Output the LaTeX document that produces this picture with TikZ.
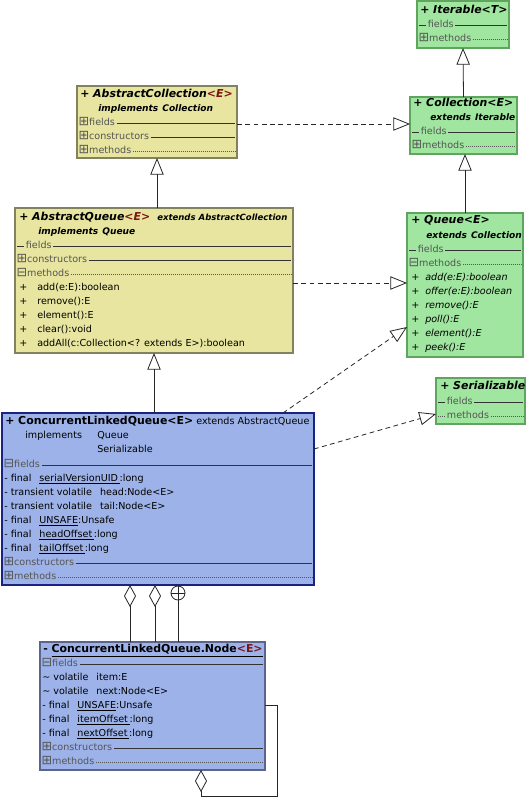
\documentclass[tikz,border=0pt]{standalone}
\usepackage{fontspec}
\setmainfont{DejaVu Sans}
\usetikzlibrary{arrows.meta}

\definecolor{absfill}{RGB}{231,229,160}
\definecolor{absline}{RGB}{130,130,95}
\definecolor{intfill}{RGB}{160,229,160}
\definecolor{intline}{RGB}{95,165,95}
\definecolor{clsfill}{RGB}{156,178,232}
\definecolor{clsline}{RGB}{25,35,130}
\definecolor{nodeline}{RGB}{90,100,140}
\definecolor{typarg}{RGB}{125,20,20}
\definecolor{secttext}{RGB}{85,85,85}

\newcommand{\bodyfont}{\fontsize{7.2}{8.5}\selectfont}
\newcommand{\namefont}{\fontsize{8.2}{9.5}\selectfont\bfseries}
\newcommand{\subfont}{\fontsize{6.8}{8}\selectfont\bfseries\itshape}
\newcommand{\targ}[1]{\textcolor{typarg}{<#1>}}
\newcommand{\openicon}{{\fontsize{9.5}{9}\selectfont ⊞}}
\newcommand{\shuticon}{{\fontsize{9.5}{9}\selectfont ⊟}}

% compartment row: box, y, icon, label, line style
\newcommand{\compart}[5]{%
  \node[sect, xshift=1pt] (#1-#4) at (#1.west |- 0,#2) {#3#4};
  \draw[#5, shorten <=1pt, shorten >=1.5pt] (#1-#4.east) -- (#1.east |- #1-#4);
}
% empty compartment: box, y, label, line style
\newcommand{\emptycompart}[4]{%
  \node[sect, xshift=8pt] (#1-#3) at (#1.west |- 0,#2) {#3};
  \draw[#4, shorten <=1.5pt, shorten >=1pt] (#1.west |- #1-#3) -- (#1-#3.west);
  \draw[#4, shorten <=1pt, shorten >=1.5pt] (#1-#3.east) -- (#1.east |- #1-#3);
}

\tikzset{
  classbox/.style={draw, anchor=north west, inner sep=0pt, outer sep=0pt, line width=0.8pt},
  absclass/.style={classbox, fill=absfill, draw=absline},
  intclass/.style={classbox, fill=intfill, draw=intline},
  conclass/.style={classbox, fill=clsfill, draw=clsline},
  boxsize/.style 2 args={minimum width=#1*0.75pt, minimum height=#2*0.75pt},
  row/.style={anchor=west, inner sep=0pt, text height=5.4pt, text depth=1.6pt, font=\bodyfont},
  sect/.style={row, text=secttext},
  clsname/.style={row, font=\namefont},
  absname/.style={row, font=\namefont\itshape},
  subname/.style={row, font=\subfont},
  solidsep/.style={line width=0.5pt, black!80},
  dotsep/.style={line width=0.5pt, black!65, dash pattern=on 0.6pt off 0.9pt},
  link/.style={line width=0.6pt, black!85},
  gen/.style={link, -{Triangle[open, length=12.5pt, width=10pt]}},
  real/.style={gen, dash pattern=on 3.6pt off 2.6pt},
  agg/.style={link, {Diamond[open, length=16.5pt, width=9pt]}-},
  nest/.style={circle, draw, black!85, line width=0.6pt, minimum size=10.5pt, inner sep=0pt},
}

\begin{document}
\begin{tikzpicture}[x=0.75pt, y=-0.75pt]
\useasboundingbox (0,0) rectangle (526,806);
\fill[white] (0,0) rectangle (526,806);

% Iterable
\node[intclass, boxsize={92}{47}] (iter) at (417,1) {};
\node[absname] at (420,11) {+ Iterable<T>};
\emptycompart{iter}{25}{fields}{solidsep}
\compart{iter}{39}{\openicon}{methods}{dotsep}

% Collection
\node[intclass, boxsize={107}{57}] (coll) at (410,97) {};
\node[absname] at (413,104) {+ Collection<E>};
\node[subname] at (430,118) {extends\hspace{3pt}Iterable};
\emptycompart{coll}{132}{fields}{solidsep}
\compart{coll}{146}{\openicon}{methods}{dotsep}

% AbstractCollection
\node[absclass, boxsize={160}{72}] (ac) at (77,86) {};
\node[absname] at (80,95) {+ AbstractCollection\targ{E}};
\node[subname] at (98,109) {implements\hspace{3pt}Collection};
\compart{ac}{123}{\openicon}{fields}{solidsep}
\compart{ac}{137}{\openicon}{constructors}{solidsep}
\compart{ac}{151}{\openicon}{methods}{dotsep}

% AbstractQueue
\node[absclass, boxsize={278}{145}] (aq) at (15,208) {};
\node[absname] at (19,218) {+ AbstractQueue\targ{E}};
\node[subname, font=\fontsize{6.4}{8}\selectfont\bfseries\itshape] at (157,218) {extends AbstractCollection};
\node[subname] at (38,232) {implements\hspace{3pt}Queue};
\emptycompart{aq}{246}{fields}{solidsep}
\compart{aq}{260}{\openicon}{constructors}{solidsep}
\compart{aq}{274}{\shuticon}{methods}{dotsep}
\foreach \m [count=\i] in {add(e:E):boolean, remove():E, element():E, clear():void, addAll(c:Collection<? extends E>):boolean} {
  \node[row] at (19,274+14*\i) {+};
  \node[row] at (37,274+14*\i) {\m};
}

% Queue
\node[intclass, boxsize={116}{144}] (queue) at (407,213) {};
\node[absname] at (411,221) {+ Queue<E>};
\node[subname] at (426,236) {extends\hspace{3pt}Collection};
\emptycompart{queue}{250}{fields}{solidsep}
\compart{queue}{264}{\shuticon}{methods}{dotsep}
\foreach \m [count=\i] in {add(e:E):boolean, offer(e:E):boolean, remove():E, poll():E, element():E, peek():E} {
  \node[row] at (411,264+14*\i) {+};
  \node[row, font=\bodyfont\itshape] at (425,264+14*\i) {\m};
}

% Serializable
\node[intclass, boxsize={89}{46}] (ser) at (436,378) {};
\node[absname] at (440,387) {+ Serializable};
\emptycompart{ser}{402}{fields}{solidsep}
\emptycompart{ser}{416}{methods}{dotsep}

% ConcurrentLinkedQueue
\node[conclass, boxsize={312}{172}] (clq) at (2,413) {};
\node[clsname] at (5,422) {+ ConcurrentLinkedQueue<E>};
\node[row] at (196,422) {extends AbstractQueue};
\node[row] at (25,436) {implements};
\node[row] at (97,436) {Queue};
\node[row] at (97,450) {Serializable};
\compart{clq}{465}{\shuticon}{fields}{solidsep}
\node[row] at (4,479) {- final\hspace{6pt}\underline{serialVersionUID\,}:long};
\node[row] at (4,493) {- transient volatile\hspace{6pt}head:Node<E>};
\node[row] at (4,507) {- transient volatile\hspace{6pt}tail:Node<E>};
\node[row] at (4,521) {- final\hspace{6pt}\underline{UNSAFE}:Unsafe};
\node[row] at (4,535) {- final\hspace{6pt}\underline{headOffset\,}:long};
\node[row] at (4,549) {- final\hspace{6pt}\underline{tailOffset\,}:long};
\compart{clq}{563}{\openicon}{constructors}{solidsep}
\compart{clq}{577}{\openicon}{methods}{dotsep}

% ConcurrentLinkedQueue.Node
\node[conclass, draw=nodeline, boxsize={225}{128}] (clqnode) at (40,642) {};
\node[clsname] at (43,650) {- \underline{ConcurrentLinkedQueue.Node\targ{E}}};
\compart{clqnode}{664}{\shuticon}{fields}{solidsep}
\node[row] at (42,678) {\textasciitilde{} volatile\hspace{6pt}item:E};
\node[row] at (42,692) {\textasciitilde{} volatile\hspace{6pt}next:Node<E>};
\node[row] at (42,706) {- final\hspace{6pt}\underline{UNSAFE}:Unsafe};
\node[row] at (42,720) {- final\hspace{6pt}\underline{itemOffset\,}:long};
\node[row] at (42,734) {- final\hspace{6pt}\underline{nextOffset\,}:long};
\compart{clqnode}{748}{\openicon}{constructors}{solidsep}
\compart{clqnode}{762}{\openicon}{methods}{dotsep}

% generalization and realization
\draw[gen] (coll.north) -- (iter.south);
\draw[gen] (queue.north) -- (queue.north |- coll.south);
\draw[gen] (ac.south |- aq.north) -- (ac.south);
\draw[gen] (aq.south |- clq.north) -- (aq.south);
\draw[real] (ac.east |- 0,124) -- (coll.west |- 0,124);
\draw[real] (aq.east |- 0,283) -- (queue.west |- 0,283);
\draw[real] (clq.north -| 283,0) -- (queue.west |- 0,327);
\draw[real] (clq.east |- 0,449) -- (ser.west |- 0,414);

% associations to the inner class
\draw[agg] (clq.south -| 130,0) -- (clqnode.north -| 130,0);
\draw[agg] (clq.south -| 155,0) -- (clqnode.north -| 155,0);
\node[nest] (inner) at (178,593) {};
\draw[link] (inner.west) -- (inner.east);
\draw[link] (inner.north) -- (clqnode.north -| inner.north);
\coordinate (loopcorner) at (277,796);
\draw[agg] (clqnode.south -| 201,0) |- (loopcorner) |- (clqnode.east |- 0,705);
\end{tikzpicture}
\end{document}
